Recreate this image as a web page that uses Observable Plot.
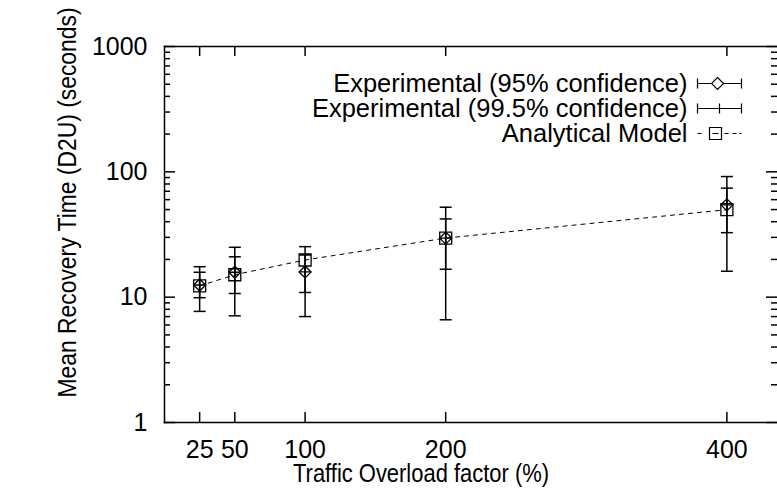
<!DOCTYPE html>
<html><head>
<meta charset="utf-8">
<script src="https://cdn.jsdelivr.net/npm/d3@7"></script>
<script src="https://cdn.jsdelivr.net/npm/@observablehq/plot@0.6"></script>
<style>body{margin:0;background:#fff;overflow:hidden}#chart svg{display:block}</style>
</head><body><div id="chart"></div>
<script>
// ---- data ----
const factors   = [25, 50, 100, 200, 400];
const meanExp   = [12.5, 15.8, 15.9, 29.6, 54.5];
const ci95Low   = [9.9, 10.7, 10.9, 16.7, 32.7];
const ci95High  = [15.8, 21.0, 21.7, 42.1, 74.1];
const ci995Low  = [7.7, 7.1, 7.0, 6.6, 16.1];
const ci995High = [17.5, 25.0, 25.3, 52.2, 91.7];
const modelVals = [12.3, 15.1, 19.8, 29.6, 49.9];
const xTicks = [25, 50, 100, 200, 400];
const yTicks = [1, 10, 100, 1000];
const yMinor = [2,3,4,5,6,7,8,9,20,30,40,50,60,70,80,90,200,300,400,500,600,700,800,900];
const legendLabels = ["Experimental (95% confidence)", "Experimental (99.5% confidence)", "Analytical Model"];
const xLabel = "Traffic Overload factor (%)";
const yLabel = "Mean Recovery Time (D2U) (seconds)";

const rows = factors.map((f, i) => ({
  factor: f, mean: meanExp[i], lo95: ci95Low[i], hi95: ci95High[i],
  lo995: ci995Low[i], hi995: ci995High[i], model: modelVals[i]
}));

// ---- custom symbols ----
const capSym = {draw(c){ c.moveTo(-6,0); c.lineTo(6,0); }};
const plusSym = {draw(c){ c.moveTo(-6,0); c.lineTo(6,0); c.moveTo(0,-6); c.lineTo(0,6); }};
const diamondSym = {draw(c){ c.moveTo(0,-6); c.lineTo(6,0); c.lineTo(0,6); c.lineTo(-6,0); c.closePath(); }};
const squareSym = {draw(c){ c.rect(-6,-6,12,12); }};
const leg95 = {draw(c){
  c.moveTo(-22,0); c.lineTo(-8,0); c.moveTo(4,0); c.lineTo(22,0);
  c.moveTo(-22,-5); c.lineTo(-22,5); c.moveTo(22,-5); c.lineTo(22,5);
  c.moveTo(-2,-6); c.lineTo(4,0); c.lineTo(-2,6); c.lineTo(-8,0); c.closePath();
}};
const leg995 = {draw(c){
  c.moveTo(-22,0); c.lineTo(22,0);
  c.moveTo(-22,-5); c.lineTo(-22,5); c.moveTo(22,-5); c.lineTo(22,5);
  c.moveTo(0,-5); c.lineTo(0,5);
}};
const legModel = {draw(c){
  c.rect(-10,-6,12,12);
  c.moveTo(-22,0); c.lineTo(-18,0); c.moveTo(-7,0); c.lineTo(-1,0);
  c.moveTo(5,0); c.lineTo(9,0); c.moveTo(13,0); c.lineTo(17,0); c.moveTo(20,0); c.lineTo(22,0);
}};

const W = 777, H = 490, ML = 164, MR = 0, MT = 46, MB = 68;
const PW = W - ML - MR, PH = H - MT - MB;
const FONT = "Liberation Sans, Arial, sans-serif";

const chart = Plot.plot({
  width: W, height: H,
  marginLeft: ML, marginRight: MR, marginTop: MT, marginBottom: MB,
  style: {fontFamily: FONT, background: "#fff", color: "#000"},
  x: {type: "linear", domain: [0, 436], axis: null},
  y: {type: "log", domain: [1, 1000], axis: null},
  marks: [
    // ticks, inward on all sides
    Plot.tickY(yTicks, {y: d => d, insetRight: PW - 11, stroke: "#000", strokeWidth: 1.5}),
    Plot.tickY(yTicks, {y: d => d, insetLeft: PW - 11, stroke: "#000", strokeWidth: 1.5}),
    Plot.tickY(yMinor, {y: d => d, insetRight: PW - 6, stroke: "#000", strokeWidth: 1.5}),
    Plot.tickY(yMinor, {y: d => d, insetLeft: PW - 6, stroke: "#000", strokeWidth: 1.5}),
    Plot.tickX(xTicks, {x: d => d, insetTop: PH - 10, stroke: "#000", strokeWidth: 1.5}),
    Plot.tickX(xTicks, {x: d => d, insetBottom: PH - 10, stroke: "#000", strokeWidth: 1.5}),
    Plot.frame({anchor: "top", stroke: "#000", strokeWidth: 1.5}),
    Plot.frame({anchor: "bottom", stroke: "#000", strokeWidth: 1.5}),
    Plot.frame({anchor: "left", stroke: "#000", strokeWidth: 1.5}),
    Plot.axisY({ticks: yTicks, tickSize: 0, tickPadding: 17, tickFormat: d => String(d), fontSize: 25, label: null}),
    Plot.axisX({ticks: xTicks, tickSize: 0, tickPadding: 18, tickFormat: d => String(d), fontSize: 25, label: null}),
    Plot.text([xLabel], {frameAnchor: "bottom", dx: -50, dy: 51, fontSize: 25, lineAnchor: "middle", fill: "#000"}),
    Plot.text([yLabel], {frameAnchor: "left", rotate: -90, dx: -97, dy: -32, fontSize: 25, textAnchor: "middle", lineAnchor: "middle", fill: "#000"}),
    // model dashed line + squares
    Plot.line(rows, {x: "factor", y: "model", stroke: "#000", strokeWidth: 1, strokeDasharray: "4,5"}),
    Plot.dot(rows, {x: "factor", y: "model", symbol: squareSym, stroke: "#000", fill: "none", strokeWidth: 1.3}),
    // 99.5% error bars
    Plot.ruleX(rows, {x: "factor", y1: "lo995", y2: "hi995", stroke: "#000", strokeWidth: 1.5}),
    Plot.dot(rows, {x: "factor", y: "lo995", symbol: capSym, stroke: "#000", strokeWidth: 1.5}),
    Plot.dot(rows, {x: "factor", y: "hi995", symbol: capSym, stroke: "#000", strokeWidth: 1.5}),
    Plot.dot(rows, {x: "factor", y: "mean", symbol: plusSym, stroke: "#000", strokeWidth: 1.3}),
    // 95% error bars
    Plot.ruleX(rows, {x: "factor", y1: "lo95", y2: "hi95", stroke: "#000", strokeWidth: 1.5}),
    Plot.dot(rows, {x: "factor", y: "lo95", symbol: capSym, stroke: "#000", strokeWidth: 1.5}),
    Plot.dot(rows, {x: "factor", y: "hi95", symbol: capSym, stroke: "#000", strokeWidth: 1.5}),
    Plot.dot(rows, {x: "factor", y: "mean", symbol: diamondSym, stroke: "#000", fill: "none", strokeWidth: 1.3}),
    // legend
    Plot.text([legendLabels[0]], {frameAnchor: "top-right", dx: -90, dy: 37, textAnchor: "end", lineAnchor: "middle", fontSize: 25.5, fill: "#000"}),
    Plot.text([legendLabels[1]], {frameAnchor: "top-right", dx: -90, dy: 62, textAnchor: "end", lineAnchor: "middle", fontSize: 25.5, fill: "#000"}),
    Plot.text([legendLabels[2]], {frameAnchor: "top-right", dx: -90, dy: 87, textAnchor: "end", lineAnchor: "middle", fontSize: 25.5, fill: "#000"}),
    Plot.dot([0], {frameAnchor: "top-right", dx: -58, dy: 37, symbol: leg95, stroke: "#000", fill: "none", strokeWidth: 1.2}),
    Plot.dot([0], {frameAnchor: "top-right", dx: -58, dy: 62, symbol: leg995, stroke: "#000", fill: "none", strokeWidth: 1.2}),
    Plot.dot([0], {frameAnchor: "top-right", dx: -58, dy: 87, symbol: legModel, stroke: "#000", fill: "none", strokeWidth: 1.2})
  ]
});
// condense the axis titles to the reference's measured lengths
chart.querySelectorAll("text").forEach(t => {
  if (t.textContent === xLabel) { t.setAttribute("textLength", 256); t.setAttribute("lengthAdjust", "spacingAndGlyphs"); }
  if (t.textContent === yLabel) { t.setAttribute("textLength", 390); t.setAttribute("lengthAdjust", "spacingAndGlyphs"); }
});
document.getElementById("chart").appendChild(chart);
</script>
</body></html>
